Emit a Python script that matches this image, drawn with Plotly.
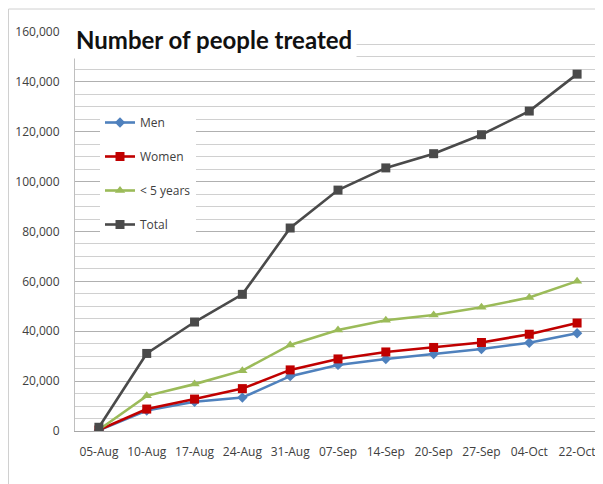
import plotly.graph_objects as go

dates = ["05-Aug", "10-Aug", "17-Aug", "24-Aug", "31-Aug", "07-Sep",
         "14-Sep", "20-Sep", "27-Sep", "04-Oct", "22-Oct"]
men = [300, 8200, 11700, 13400, 22000, 26500, 28900, 30900, 32900, 35400, 39200]
women = [400, 8800, 12800, 17000, 24500, 28900, 31700, 33500, 35500, 38800, 43300]
under5 = [500, 14100, 18800, 24200, 34500, 40500, 44400, 46500, 49600, 53500, 60100]
total = [1500, 31100, 43700, 54800, 81400, 96600, 105500, 111200, 118800, 128300, 143100]

series = [
    ("Men", men, "#4F81BD", "diamond", 8),
    ("Women", women, "#C00000", "square", 9),
    ("< 5 years", under5, "#9BBB59", "triangle-up", 9),
    ("Total", total, "#4A4A4A", "square", 9),
]

fig = go.Figure()
for name, vals, color, sym, size in series:
    fig.add_trace(go.Scatter(
        x=dates, y=vals, name=name, mode="lines+markers",
        line=dict(color=color, width=2.6),
        marker=dict(symbol=sym, size=size, color=color),
        legendgroup=name,
    ))

# page body has an 8px margin, so the figure is offset by 8px in the window
OFF = 8
W, H = 603 - OFF, 484 - OFF
L, R, T, B = 75 - OFF, 2, 32 - OFF, 53
pw, ph = W - L - R, H - T - B

def px(xp):  # window pixel -> paper x
    return (xp - OFF - L) / pw

def py(yp):  # window pixel -> paper y
    return (H - B - (yp - OFF)) / ph

fig.update_layout(
    width=W, height=H,
    margin=dict(l=L, r=R, t=T, b=B, autoexpand=False),
    paper_bgcolor="white", plot_bgcolor="white",
    font=dict(family="Open Sans", size=12, color="#404040"),
    showlegend=True,
    legend=dict(
        x=px(100), y=py(108), xanchor="left", yanchor="top",
        bgcolor="white", borderwidth=0,
        font=dict(family="Open Sans", size=12, color="#404040"),
        tracegroupgap=15, itemwidth=30,
    ),
    xaxis=dict(
        type="category", range=[-0.5, 10.5], automargin=False,
        showgrid=False, showline=True, linecolor="#A6A6A6", linewidth=1,
        ticks="", ticklabelstandoff=10,
        tickfont=dict(family="Open Sans", size=12, color="#404040"),
    ),
    yaxis=dict(
        range=[0, 160000], dtick=20000, tickformat=",d", automargin=False,
        showgrid=True, gridcolor="#B0B0B0", gridwidth=1,
        showline=True, linecolor="#BFBFBF", linewidth=1,
        zeroline=False, ticks="", ticklabelstandoff=12,
        tickfont=dict(family="Open Sans", size=12, color="#404040"),
        minor=dict(dtick=5000, showgrid=True, gridcolor="#D0D0D0", gridwidth=1),
    ),
    shapes=[
        dict(type="line", xref="paper", yref="paper",
             x0=px(8.5), x1=px(8.5), y0=py(484), y1=py(9),
             line=dict(color="#D0D0D0", width=1), layer="below"),
        dict(type="line", xref="paper", yref="paper",
             x0=px(8.5), x1=px(603), y0=py(9), y1=py(9),
             line=dict(color="#D0D0D0", width=1), layer="below"),
    ],
    annotations=[
        dict(text="Number of people treated", xref="paper", yref="paper",
             x=px(71), y=py(39), xanchor="left", yanchor="middle",
             showarrow=False, bgcolor="white", borderpad=4,
             font=dict(family="Lato", size=24, color="#111111", weight="bold")),
    ],
)

fig.write_html("out.html")
